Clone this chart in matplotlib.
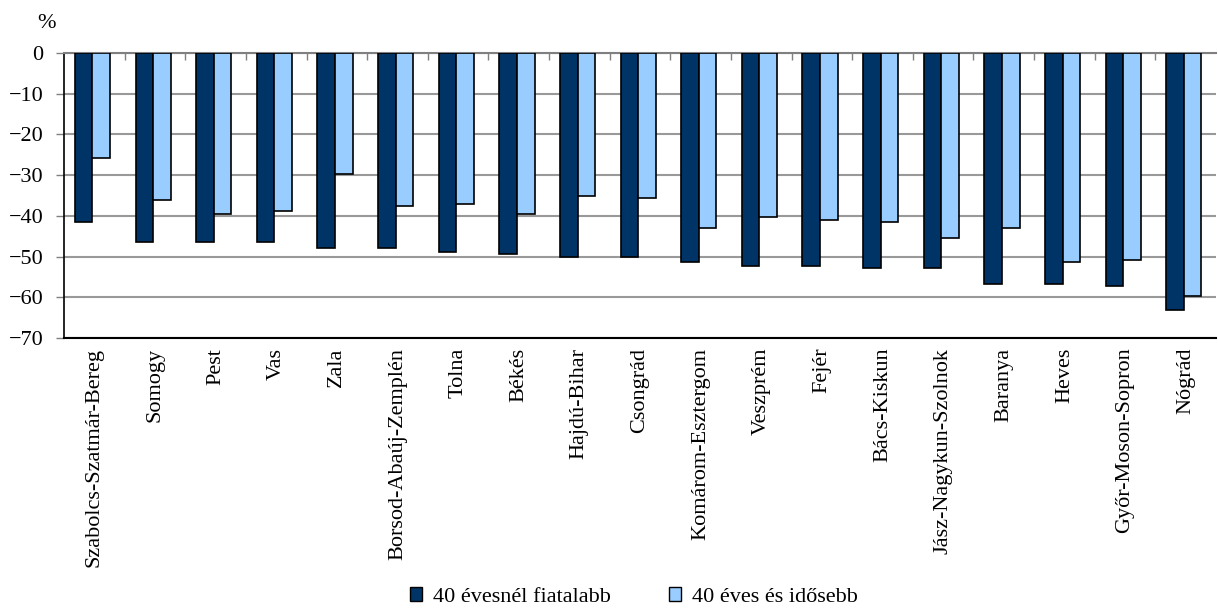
import matplotlib
matplotlib.use("Agg")
import matplotlib.pyplot as plt
from matplotlib.patches import Patch
import numpy as np

categories = ["Szabolcs-Szatmár-Bereg", "Somogy", "Pest", "Vas", "Zala",
              "Borsod-Abaúj-Zemplén", "Tolna", "Békés", "Hajdú-Bihar", "Csongrád",
              "Komárom-Esztergom", "Veszprém", "Fejér", "Bács-Kiskun",
              "Jász-Nagykun-Szolnok", "Baranya", "Heves", "Győr-Moson-Sopron", "Nógrád"]
young = [-41.5, -46.4, -46.4, -46.4, -47.9, -47.9, -48.9, -49.4, -50.2, -50.2,
         -51.3, -52.3, -52.3, -52.8, -52.8, -56.7, -56.7, -57.2, -63.1]
old = [-25.7, -36.0, -39.5, -38.9, -29.6, -37.5, -37.0, -39.5, -35.1, -35.5,
       -43.0, -40.4, -41.0, -41.4, -45.4, -43.0, -51.3, -50.8, -59.6]
series_labels = ["40 évesnél fiatalabb", "40 éves és idősebb"]
yticks = [0, -10, -20, -30, -40, -50, -60, -70]

plt.rcParams['font.family'] = ['Liberation Serif', 'DejaVu Serif']
dark = "#003366"
light = "#99CCFF"
FS = 16

fig = plt.figure(figsize=(12.18, 6.09), dpi=100)
ax = fig.add_axes([64/1218, 1-338/609, (1216-64)/1218, (338-53)/609])

x = np.arange(len(categories))
w = 0.29
ax.bar(x - w/2 - 0.03, young, w, color=dark, edgecolor="black", linewidth=1.2, zorder=3)
ax.bar(x + w/2 - 0.03, old, w, color=light, edgecolor="black", linewidth=1.2, zorder=3)

ax.set_xlim(-0.5, len(categories) - 0.5)
ax.set_ylim(-70, 0)
ax.set_yticks(yticks)
ax.set_yticklabels([str(v).replace("-", "\u2212") for v in yticks], fontsize=FS)
ax.yaxis.grid(True, color="#999999", linewidth=1.5, zorder=0)
ax.set_axisbelow(True)

ax.set_xticks(x)
ax.set_xticklabels(categories, rotation=90, fontsize=FS, va="top")
ax.tick_params(axis="x", which="major", length=0, pad=7)
ax.set_xticks(np.arange(len(categories) - 1) + 0.5, minor=True)
ax.tick_params(axis="x", which="minor", bottom=False, top=True, direction="in",
               length=5, color="#808080", width=1)
ax.tick_params(axis="y", direction="out", length=6, width=1, color="#808080", pad=9)

ax.spines["right"].set_visible(False)
ax.spines["top"].set_color("#808080")
ax.spines["top"].set_linewidth(1.5)
ax.spines["left"].set_color("black")
ax.spines["left"].set_linewidth(1.2)
ax.spines["bottom"].set_color("black")
ax.spines["bottom"].set_linewidth(1.5)

fig.text(46/1218, 1-23/609, "%", fontsize=FS, ha="center", va="center")

handles = [Patch(facecolor=dark, edgecolor="black"), Patch(facecolor=light, edgecolor="black")]
fig.legend(handles, series_labels, loc="center", bbox_to_anchor=(634/1218, 1-597/609),
           ncol=2, frameon=False, fontsize=FS, handlelength=0.55, handleheight=0.55,
           handletextpad=0.5, columnspacing=2.6, borderpad=0.2)

fig.savefig("out.png", dpi=100)
